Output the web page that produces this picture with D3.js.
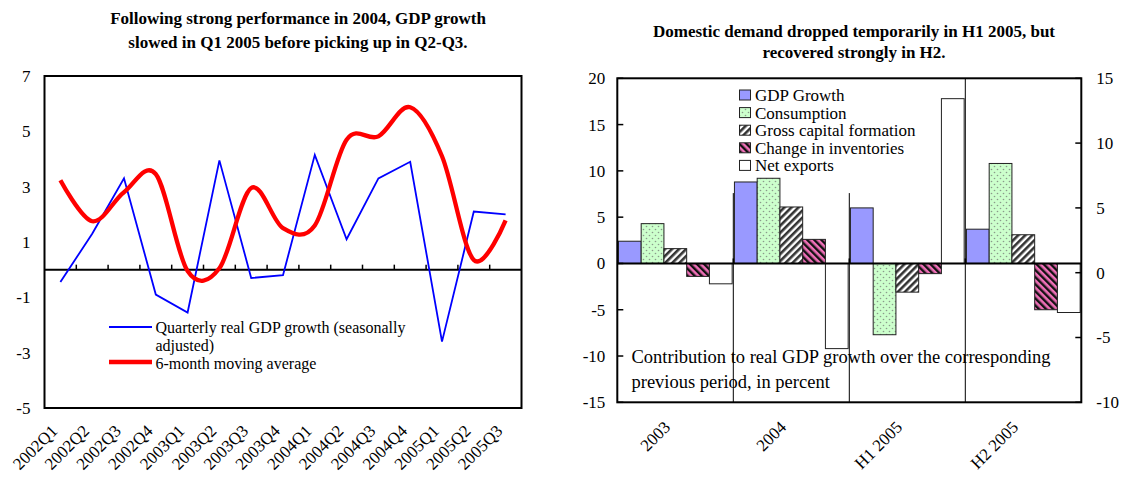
<!DOCTYPE html>
<html><head><meta charset="utf-8">
<script src="https://cdn.jsdelivr.net/npm/d3@7"></script>
<style>
body{margin:0;background:#fff}
svg{display:block}
text{font-family:"Liberation Serif","Times New Roman",serif;fill:#000}
</style>
</head><body>
<svg id="c" width="1125" height="477"></svg>
<script>
// ---------- data: left chart ----------
const quarters = ["2002Q1","2002Q2","2002Q3","2002Q4","2003Q1","2003Q2","2003Q3","2003Q4","2004Q1","2004Q2","2004Q3","2004Q4","2005Q1","2005Q2","2005Q3"];
const gdpQuarterly = [-0.45,1.3,3.3,-0.9,-1.55,3.95,-0.3,-0.2,4.15,1.1,3.3,3.9,-2.6,2.1,2.0];
const movingAverage = [3.23,1.75,2.8,3.45,-0.05,0.05,2.95,1.5,1.6,4.7,4.82,5.87,4.1,0.35,1.78];
const leftTicks = [7,5,3,1,-1,-3,-5];
const leftTitle = ["Following strong performance in 2004, GDP growth","slowed in Q1 2005 before picking up in Q2-Q3."];
const lineLegend = ["Quarterly real GDP growth (seasonally","adjusted)","6-month moving average"];

// ---------- data: right chart ----------
const periods = ["2003","2004","H1 2005","H2 2005"];
const components = ["GDP Growth","Consumption","Gross capital formation","Change in inventories","Net exports"];
const gdpGrowth = [2.4,8.8,6.0,3.7];
const consumption = [4.3,9.2,-7.7,10.8];
const capitalFormation = [1.6,6.1,-3.1,3.1];
const inventories = [-1.4,2.6,-1.1,-5.0];
const netExports = [-2.2,-9.2,17.8,-5.3];
const barTicksLeft = [20,15,10,5,0,-5,-10,-15];
const barTicksRight = [15,10,5,0,-5,-10];
const dividerTops = [7.6,7.6,20];
const rightTitle = ["Domestic demand dropped temporarily in H1 2005, but","recovered strongly in H2."];
const note = ["Contribution to real GDP growth over the corresponding","previous period, in percent"];

const svg = d3.select("#c");
const defs = svg.append("defs");

// patterns
const pCons = defs.append("pattern").attr("id","pCons").attr("patternUnits","userSpaceOnUse").attr("width",6).attr("height",6);
pCons.append("rect").attr("width",6).attr("height",6).attr("fill","#CCFFCC");
pCons.append("circle").attr("cx",1.5).attr("cy",1.5).attr("r",0.8).attr("fill","#8a9a8a");
pCons.append("circle").attr("cx",4.5).attr("cy",4.5).attr("r",0.8).attr("fill","#8a9a8a");

const pGcf = defs.append("pattern").attr("id","pGcf").attr("patternUnits","userSpaceOnUse").attr("width",5).attr("height",5).attr("patternTransform","rotate(45)");
pGcf.append("rect").attr("width",5).attr("height",5).attr("fill","#fff");
pGcf.append("rect").attr("width",2.6).attr("height",5).attr("fill","#333");

const pInv = defs.append("pattern").attr("id","pInv").attr("patternUnits","userSpaceOnUse").attr("width",5).attr("height",5).attr("patternTransform","rotate(-45)");
pInv.append("rect").attr("width",5).attr("height",5).attr("fill","#F070B8");
pInv.append("rect").attr("width",2.4).attr("height",5).attr("fill","#111");

const fills = ["#9999FF","url(#pCons)","url(#pGcf)","url(#pInv)","#FFFFFF"];
const FS = 17;

// ================= LEFT CHART =================
const L1 = 44.5, R1 = 521.5, T1 = 76, B1 = 408;
const x1 = d3.scaleBand().domain(quarters).range([L1,R1]);
const y1 = d3.scaleLinear().domain([-5,7]).range([B1,T1]);
const gL = svg.append("g");

gL.append("text").attr("x",298).attr("y",24).attr("text-anchor","middle").attr("font-weight","bold").attr("font-size",17).text(leftTitle[0]);
gL.append("text").attr("x",298).attr("y",48).attr("text-anchor","middle").attr("font-weight","bold").attr("font-size",17).text(leftTitle[1]);

gL.append("rect").attr("x",L1).attr("y",T1).attr("width",R1-L1).attr("height",B1-T1).attr("fill","none").attr("stroke","#000").attr("stroke-width",2);

// y labels
gL.selectAll(".yl").data(leftTicks).enter().append("text")
  .attr("x",L1-14).attr("y",d=>y1(d)).attr("dy","0.35em").attr("text-anchor","end").attr("font-size",FS).text(d=>d);

// zero axis with ticks
gL.append("line").attr("x1",L1).attr("x2",R1).attr("y1",y1(0)).attr("y2",y1(0)).attr("stroke","#000").attr("stroke-width",2);
gL.selectAll(".xt").data(quarters.slice(1)).enter().append("line")
  .attr("x1",d=>x1(d)).attr("x2",d=>x1(d)).attr("y1",y1(0)).attr("y2",y1(0)-5).attr("stroke","#000").attr("stroke-width",1.5);

// x labels
gL.selectAll(".xl").data(quarters).enter().append("text")
  .attr("text-anchor","end").attr("font-size",FS)
  .attr("transform",d=>`translate(${x1(d)+x1.bandwidth()/2-2},${B1+24}) rotate(-45)`)
  .text(d=>d);

const cx = d=>x1(d)+x1.bandwidth()/2;
gL.append("path").datum(gdpQuarterly)
  .attr("d",d3.line().x((d,i)=>cx(quarters[i])).y(d=>y1(d)))
  .attr("fill","none").attr("stroke","#0000FF").attr("stroke-width",1.8);
gL.append("path").datum(movingAverage)
  .attr("d",d3.line().x((d,i)=>cx(quarters[i])).y(d=>y1(d)).curve(d3.curveCatmullRom.alpha(0)))
  .attr("fill","none").attr("stroke","#FF0000").attr("stroke-width",4.3).attr("stroke-linejoin","round");

// legend
gL.append("line").attr("x1",109).attr("x2",152).attr("y1",327).attr("y2",327).attr("stroke","#0000FF").attr("stroke-width",1.8);
gL.append("line").attr("x1",109).attr("x2",152).attr("y1",362).attr("y2",362).attr("stroke","#FF0000").attr("stroke-width",4.3);
[[327,0],[345,1],[363,2]].forEach(([yy,i])=>{
  gL.append("text").attr("x",155.5).attr("y",yy).attr("dy","0.35em").attr("font-size",16).text(lineLegend[i]);
});

// ================= RIGHT CHART =================
const L2 = 617.3, R2 = 1081.3, T2 = 78.3, B2 = 402.3;
const x2 = d3.scaleBand().domain(periods).range([L2,R2]);
const xs = d3.scaleBand().domain(components).range([0,x2.bandwidth()]).paddingInner(0).paddingOuter(0.05);
const yL = d3.scaleLinear().domain([-15,20]).range([B2,T2]);
const yR = d3.scaleLinear().domain([-10,15]).range([B2,T2]);
const gR = svg.append("g");

gR.append("text").attr("x",854).attr("y",37).attr("text-anchor","middle").attr("font-weight","bold").attr("font-size",17).text(rightTitle[0]);
gR.append("text").attr("x",854).attr("y",58).attr("text-anchor","middle").attr("font-weight","bold").attr("font-size",17).text(rightTitle[1]);

// dividers
gR.selectAll(".dv").data(periods.slice(1)).enter().append("line")
  .attr("x1",d=>x2(d)).attr("x2",d=>x2(d)).attr("y1",(d,i)=>yL(dividerTops[i])).attr("y2",B2)
  .attr("stroke","#000").attr("stroke-width",1);

// bars
const series = [gdpGrowth,consumption,capitalFormation,inventories,netExports];
series.forEach((vals,si)=>{
  gR.selectAll(".b"+si).data(vals).enter().append("rect")
    .attr("x",(d,i)=>x2(periods[i])+xs(components[si]))
    .attr("width",xs.bandwidth())
    .attr("y",d=>yL(Math.max(0,d)))
    .attr("height",d=>Math.abs(yL(d)-yL(0)))
    .attr("fill",fills[si]).attr("stroke","#222").attr("stroke-width",1);
});

// zero line
gR.append("line").attr("x1",L2).attr("x2",R2).attr("y1",yL(0)).attr("y2",yL(0)).attr("stroke","#000").attr("stroke-width",2);
gR.selectAll(".zt").data(periods.slice(1)).enter().append("line")
  .attr("x1",d=>x2(d)).attr("x2",d=>x2(d)).attr("y1",yL(0)).attr("y2",yL(0)-5).attr("stroke","#000").attr("stroke-width",1.5);

// frame
gR.append("rect").attr("x",L2).attr("y",T2).attr("width",R2-L2).attr("height",B2-T2).attr("fill","none").attr("stroke","#000").attr("stroke-width",2);

// left axis ticks + labels
gR.selectAll(".lt").data(barTicksLeft).enter().append("line")
  .attr("x1",L2).attr("x2",L2+6).attr("y1",d=>yL(d)).attr("y2",d=>yL(d)).attr("stroke","#000").attr("stroke-width",1.5);
gR.selectAll(".ll").data(barTicksLeft).enter().append("text")
  .attr("x",L2-12).attr("y",d=>yL(d)).attr("dy","0.35em").attr("text-anchor","end").attr("font-size",FS).text(d=>d);
// right axis ticks + labels
gR.selectAll(".rt").data(barTicksRight).enter().append("line")
  .attr("x1",R2).attr("x2",R2-6).attr("y1",d=>yR(d)).attr("y2",d=>yR(d)).attr("stroke","#000").attr("stroke-width",1.5);
gR.selectAll(".rl").data(barTicksRight).enter().append("text")
  .attr("x",R2+15).attr("y",d=>yR(d)).attr("dy","0.35em").attr("text-anchor","start").attr("font-size",FS).text(d=>d);

// x labels
gR.selectAll(".xl2").data(periods).enter().append("text")
  .attr("text-anchor","end").attr("font-size",FS)
  .attr("transform",d=>`translate(${x2(d)+x2.bandwidth()/2-4},${B2+26}) rotate(-45)`)
  .text(d=>d);

// legend
components.forEach((c,i)=>{
  const yy = 95 + i*17.6;
  gR.append("rect").attr("x",739.5).attr("y",yy-5).attr("width",11).attr("height",10)
    .attr("fill",fills[i]).attr("stroke","#222").attr("stroke-width",1);
  gR.append("text").attr("x",755).attr("y",yy).attr("dy","0.35em").attr("font-size",FS).text(c);
});

// note
gR.append("text").attr("x",631.5).attr("y",357).attr("dy","0.35em").attr("font-size",18.5).text(note[0]);
gR.append("text").attr("x",631.5).attr("y",382).attr("dy","0.35em").attr("font-size",18.5).text(note[1]);
</script>
</body></html>
